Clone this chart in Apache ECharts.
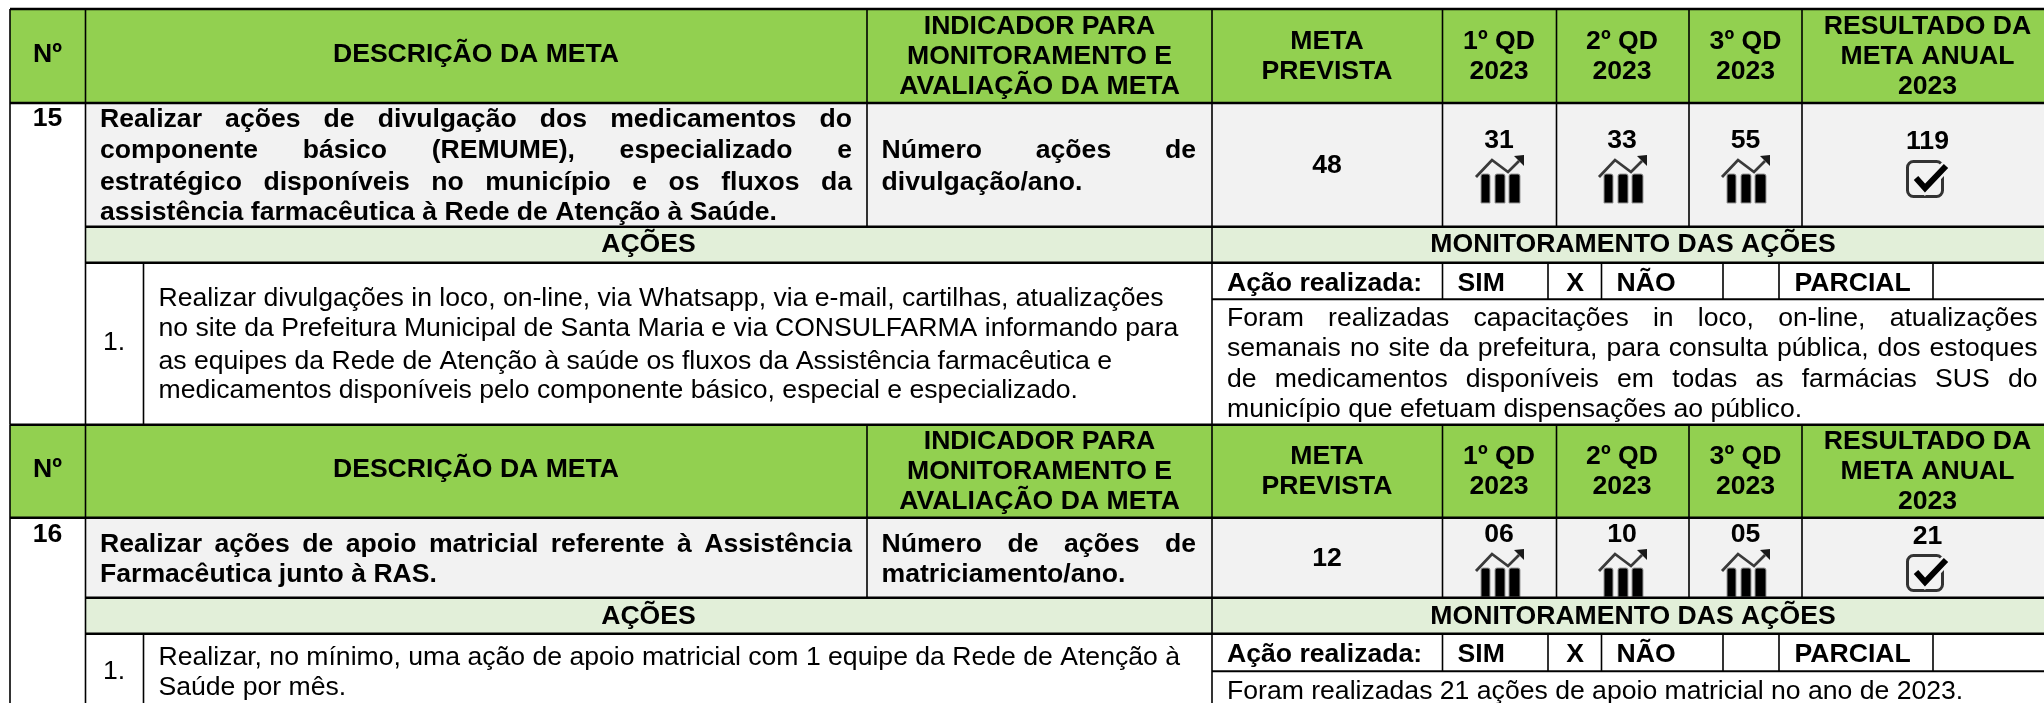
<!DOCTYPE html>
<html><head><meta charset="utf-8">
<style>html,body{margin:0;padding:0;background:#fff}#c{width:2044px;height:703px}</style>
<script src="https://cdn.jsdelivr.net/npm/echarts@6/dist/echarts.min.js"></script>
</head><body><div id="c"></div>
<script>
// ---------- content ----------
const hNo = 'Nº';
const hDesc = 'DESCRIÇÃO DA META';
const hInd = ['INDICADOR PARA', 'MONITORAMENTO E', 'AVALIAÇÃO DA META'];
const hPrev = ['META', 'PREVISTA'];
const hQ = [['1º QD', '2023'], ['2º QD', '2023'], ['3º QD', '2023']];
const hRes = ['RESULTADO DA', 'META ANUAL', '2023'];
const goalIds = ['15', '16'];
const goalText = [
  ['Realizar ações de divulgação dos medicamentos do', 'componente básico (REMUME), especializado e', 'estratégico disponíveis no município e os fluxos da', 'assistência farmacêutica à Rede de Atenção à Saúde.'],
  ['Realizar ações de apoio matricial referente à Assistência', 'Farmacêutica junto à RAS.']
];
const indicatorText = [
  ['Número ações de', 'divulgação/ano.'],
  ['Número de ações de', 'matriciamento/ano.']
];
const planned = ['48', '12'];
const q1 = ['31', '06'];
const q2 = ['33', '10'];
const q3 = ['55', '05'];
const annual = ['119', '21'];
const sectionLeft = 'AÇÕES';
const sectionRight = 'MONITORAMENTO DAS AÇÕES';
const actionNo = ['1.', '1.'];
const actionText = [
  ['Realizar divulgações in loco, on-line, via Whatsapp, via e-mail, cartilhas, atualizações',
   'no site da Prefeitura Municipal de Santa Maria e via CONSULFARMA informando para',
   'as equipes da Rede de Atenção à saúde os fluxos da Assistência farmacêutica e',
   'medicamentos disponíveis pelo componente básico, especial e especializado.'],
  ['Realizar, no mínimo, uma ação de apoio matricial com 1 equipe da Rede de Atenção à', 'Saúde por mês.']
];
const doneLabels = ['Ação realizada:', 'SIM', 'X', 'NÃO', 'PARCIAL'];
const monitorText = [
  ['Foram realizadas capacitações in loco, on-line, atualizações',
   'semanais no site da prefeitura, para consulta pública, dos estoques',
   'de medicamentos disponíveis em todas as farmácias SUS do',
   'município que efetuam dispensações ao público.'],
  ['Foram realizadas 21 ações de apoio matricial no ano de 2023.']
];

// ---------- layout ----------
const FS = 26.6, FAM = '"Liberation Sans", Arial, sans-serif';
const GREEN = '#92D050', GREY = '#F2F2F2', PALE = '#E2EFD9';
const X = {l:10, no:85.5, act:143.5, ind:867, prev:1212, q1:1442.5, q2:1556.5, q3:1689, res:1802, r:2044,
           sim:1442.5, x:1548, nao:1601.5, blank:1723, par:1779, parEnd:1933};
const cx = {no:47.5, desc:476, ind:1039.5, prev:1327, q1:1499, q2:1622, q3:1745.5, res:1927.5};
const blocks = [
 {top:9, hb:103, mb:226.7, sb:262.7, db:299.3, end:424.7, off:0,
  goalY:[120,151,183,213], indY:[151,183], planY:166, qY:141, iconY:155, resY:142, chkY:160,
  actY:[298.7,329,362,391], actNoY:343, monY:[318.7,349,380,410], idY:119, secY:245, doneY:283.5, idx:0},
 {top:424.7, hb:517.7, mb:597.7, sb:633.7, db:671.3, end:703, off:415,
  goalY:[544.7,575], indY:[544.7,575], planY:559, qY:535, iconY:549, resY:537, chkY:554,
  actY:[658,688], actNoY:672, monY:[692], idY:534.7, secY:617, doneY:654.5, idx:1}
];

const meas = document.createElement('canvas').getContext('2d');
const els = [];
const fontOf = (b, s) => (b ? 'bold ' : '') + (s || FS) + 'px ' + FAM;
function rect(x0, y0, x1, y1, fill) { els.push({type:'rect', silent:true, shape:{x:x0, y:y0, width:x1-x0, height:y1-y0}, style:{fill}}); }
function line(x0, y0, x1, y1, w) { els.push({type:'line', silent:true, shape:{x1:x0, y1:y0, x2:x1, y2:y1}, style:{stroke:'#000', lineWidth:w}}); }
function txt(s, x, y, bold, align) {
  els.push({type:'text', silent:true, style:{text:s, x, y, font:fontOf(bold), fill:'#000', textAlign:align||'center', textVerticalAlign:'middle'}});
}
function justified(s, x0, x1, y, bold) {
  const words = s.split(' ');
  meas.font = fontOf(bold);
  const tot = words.reduce((a, w) => a + meas.measureText(w).width, 0);
  const gap = (x1 - x0 - tot) / (words.length - 1);
  let x = x0;
  words.forEach(w => { txt(w, x, y, bold, 'left'); x += meas.measureText(w).width + gap; });
}
function trendIcon(x, y, clipBottom) {
  const bars = [[6,15],[20,30],[34,45]];
  bars.forEach(b => {
    const h = Math.min(y + 48, clipBottom) - (y + 19);
    els.push({type:'rect', silent:true, shape:{x:x+b[0], y:y+19, width:b[1]-b[0], height:h, r:[2,2,0,0]},
      style:{fill:'#000', stroke:'#9a9a9a', lineWidth:1}});
  });
  els.push({type:'polyline', silent:true, shape:{points:[[x+1,y+22],[x+17,y+5],[x+33,y+17],[x+44,y+6]]},
    style:{stroke:'#3a3a3a', lineWidth:2.8, fill:'none'}});
  els.push({type:'polygon', silent:true, shape:{points:[[x+39,y+1],[x+49,y+0],[x+49,y+11]]}, style:{fill:'#1a1a1a'}});
}
function checkIcon(x, y) {
  els.push({type:'rect', silent:true, shape:{x:x+1.5, y:y+1.5, width:35, height:35, r:6}, style:{fill:'none', stroke:'#333', lineWidth:3}});
  els.push({type:'polyline', silent:true, shape:{points:[[x+10,y+18],[x+19,y+28],[x+40,y+6]]}, style:{stroke:GREY, lineWidth:11, fill:'none'}});
  els.push({type:'polyline', silent:true, shape:{points:[[x+10,y+18],[x+19,y+28],[x+40,y+6]]}, style:{stroke:'#000', lineWidth:6, fill:'none'}});
}

blocks.forEach(b => {
  rect(X.l, b.top, X.r, b.hb, GREEN);
  rect(X.no, b.hb, X.r, b.mb, GREY);
  rect(X.no, b.mb, X.r, b.sb, PALE);
});
blocks.forEach(b => {
  const i = b.idx, o = b.off;
  // header text
  txt(hNo, cx.no, 55+o, true);
  txt(hDesc, cx.desc, 55+o, true);
  hInd.forEach((t, k) => txt(t, cx.ind, 27+o+k*30, true));
  hPrev.forEach((t, k) => txt(t, cx.prev, 42+o+k*30, true));
  hQ.forEach((q, n) => q.forEach((t, k) => txt(t, [cx.q1,cx.q2,cx.q3][n], 42+o+k*30, true)));
  hRes.forEach((t, k) => txt(t, cx.res, 27+o+k*30, true));
  // goal row
  txt(goalIds[i], cx.no, b.idY, true);
  goalText[i].forEach((t, k) => k < goalText[i].length-1 ? justified(t, 100, 852, b.goalY[k], true) : txt(t, 100, b.goalY[k], true, 'left'));
  indicatorText[i].forEach((t, k) => k < indicatorText[i].length-1 ? justified(t, 881.5, 1196, b.indY[k], true) : txt(t, 881.5, b.indY[k], true, 'left'));
  txt(planned[i], cx.prev, b.planY, true);
  [[q1,cx.q1,1475],[q2,cx.q2,1598],[q3,cx.q3,1721]].forEach(a => {
    txt(a[0][i], a[1], b.qY, true);
    trendIcon(a[2], b.iconY, b.mb);
  });
  txt(annual[i], cx.res, b.resY, true);
  checkIcon(1906, b.chkY);
  // sections
  txt(sectionLeft, 648.5, b.secY, true);
  txt(sectionRight, 1633, b.secY, true);
  // actions
  txt(actionNo[i], 114, b.actNoY, false);
  actionText[i].forEach((t, k) => txt(t, 158.5, b.actY[k], false, 'left'));
  // status
  [1227,1457.5,1575,1616.5,1794.5].forEach((x, k) => txt(doneLabels[k], x, b.doneY, true, k===2?'center':'left'));
  // monitor text
  monitorText[i].forEach((t, k) => (i===0 && k<3) ? justified(t, 1227, 2037.5, b.monY[k], false) : txt(t, 1227, b.monY[k], false, 'left'));
  // grid lines
  line(X.l, b.top, X.r, b.top, 2.5);
  line(X.l, b.hb, X.r, b.hb, 2.5);
  line(X.no, b.mb, X.r, b.mb, 2.5);
  line(X.no, b.sb, X.r, b.sb, 2.5);
  line(X.prev, b.db, X.r, b.db, 2);
  line(X.l, b.top, X.l, b.end, 1.6);
  line(X.no, b.top, X.no, b.end, 1.6);
  [X.ind, X.prev, X.q1, X.q2, X.q3, X.res].forEach(x => line(x, b.top, x, b.mb, 1.6));
  line(X.prev, b.mb, X.prev, b.end, 1.6);
  line(X.act, b.sb, X.act, b.end, 1.6);
  [X.sim, X.x, X.nao, X.blank, X.par, X.parEnd].forEach(x => line(x, b.sb, x, b.db, 1.6));
});

const chart = echarts.init(document.getElementById('c'), null, {renderer:'canvas'});
chart.setOption({animation:false, backgroundColor:'#fff', graphic:{elements:els}});
</script></body></html>
